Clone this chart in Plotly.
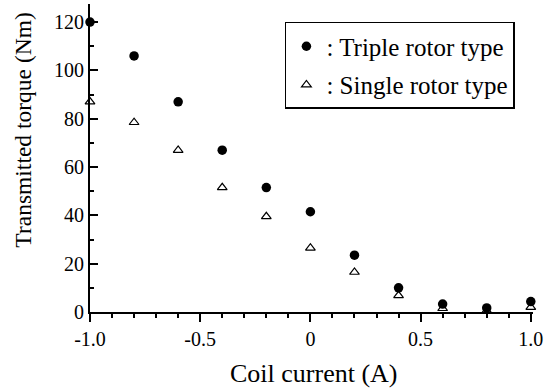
import plotly.graph_objects as go

current = [-1.0, -0.8, -0.6, -0.4, -0.2, 0.0, 0.2, 0.4, 0.6, 0.8, 1.0]
triple = [120, 106, 87, 67, 51.5, 41.5, 23.5, 10, 3.3, 1.7, 4.3]
single = [87, 78.5, 67, 51.5, 39.5, 26.5, 16.5, 6.8, 1.5, 0.5, 2.0]

x_tickvals = [-1.0, -0.5, 0.0, 0.5, 1.0]
x_ticktext = ["-1.0", "-0.5", "0", "0.5", "1.0"]
y_tickvals = [0, 20, 40, 60, 80, 100, 120]

FONT = "Liberation Serif"

fig = go.Figure()
fig.add_trace(go.Scatter(
    x=current, y=triple, mode="markers", name=": Triple rotor type",
    legendgroup="a", cliponaxis=False,
    marker=dict(symbol="circle", size=9.5, color="black"),
))
fig.add_trace(go.Scatter(
    x=current, y=single, mode="markers", name=": Single rotor type",
    legendgroup="b", cliponaxis=False,
    marker=dict(symbol="triangle-up-open", size=8.5, color="black", line=dict(width=1.2, color="black")),
))

fig.update_layout(
    width=555, height=389,
    margin=dict(l=90, r=22, t=4, b=77),
    paper_bgcolor="white", plot_bgcolor="white",
    font=dict(family=FONT, color="black", size=20),
    showlegend=True,
    legend=dict(
        x=0.44, y=0.9416, xanchor="left", yanchor="top",
        bordercolor="black", borderwidth=1.5, bgcolor="white",
        font=dict(size=25, family=FONT, color="black"),
        tracegroupgap=3, itemsizing="trace",
    ),
    xaxis=dict(
        range=[-1.0, 1.01], showgrid=False, zeroline=False,
        showline=True, linecolor="black", linewidth=2,
        tickvals=x_tickvals, ticktext=x_ticktext,
        ticks="outside", ticklen=8, tickwidth=1.5, tickcolor="black",
        minor=dict(dtick=0.1, ticks="outside", ticklen=4, tickwidth=1.5, tickcolor="black"),
        tickfont=dict(size=20, family=FONT, color="black"),
    ),
    yaxis=dict(
        range=[0, 127.5], showgrid=False, zeroline=False,
        showline=True, linecolor="black", linewidth=2,
        tickvals=y_tickvals,
        ticks="inside", ticklen=8, tickwidth=1.5, tickcolor="black",
        minor=dict(dtick=10, ticks="inside", ticklen=4, tickwidth=1.5, tickcolor="black"),
        tickfont=dict(size=20, family=FONT, color="black"),
    ),
    annotations=[
        dict(text="Transmitted torque (Nm)", xref="paper", yref="paper",
             x=-0.152, y=0.591, xanchor="center", yanchor="middle",
             textangle=-90, showarrow=False, font=dict(size=23.5, family=FONT, color="black")),
        dict(text="Coil current (A)", xref="paper", yref="paper",
             x=0.505, y=-0.2, xanchor="center", yanchor="middle",
             showarrow=False, font=dict(size=26, family=FONT, color="black")),
    ],
)

fig.write_html("out.html", config={"displayModeBar": False},
               post_script="document.body.style.margin='0';")
